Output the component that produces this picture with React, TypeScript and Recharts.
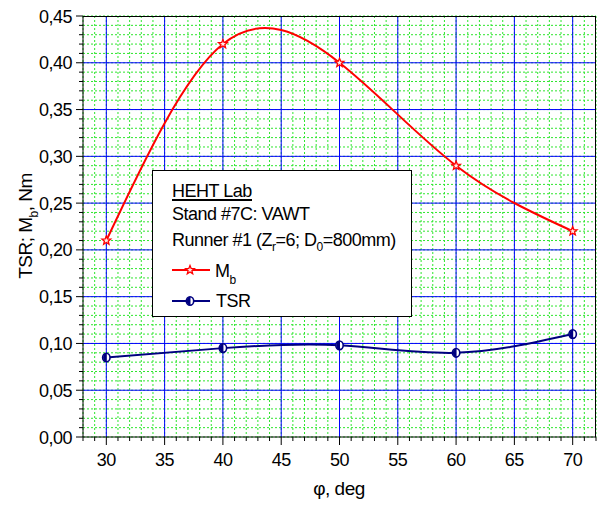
import React from 'react';
import {
  LineChart,
  Line,
  XAxis,
  YAxis,
  CartesianGrid,
} from 'recharts';

// measured points (phi in deg)
const PHI = [30, 40, 50, 60, 70];
const MB = [0.21, 0.42, 0.4, 0.29, 0.22];
const TSR = [0.085, 0.095, 0.098, 0.09, 0.11];

// axis ticks: labelled ones plus minor steps
const X_MAJOR = [30, 35, 40, 45, 50, 55, 60, 65, 70];
const Y_MAJOR = [0.05, 0.1, 0.15, 0.2, 0.25, 0.3, 0.35, 0.4];
const X_MINOR = Array.from({ length: 45 }, (_, i) => 28 + i);
const Y_MINOR = Array.from({ length: 46 }, (_, i) => i / 100);

const data = PHI.map((phi, i) => ({ phi, mb: MB[i], tsr: TSR[i] }));

const FONT = "'Liberation Sans', Arial, sans-serif";
const RED = '#ff0000';
const NAVY = '#000080';

const starPath = (cx: number, cy: number, R = 4.6, r = 2) => {
  let d = '';
  for (let k = 0; k < 10; k++) {
    const rad = k % 2 === 0 ? R : r;
    const a = -Math.PI / 2 + (k * Math.PI) / 5;
    d += (k === 0 ? 'M' : 'L') + (cx + rad * Math.cos(a)).toFixed(2) + ',' + (cy + rad * Math.sin(a)).toFixed(2);
  }
  return d + 'Z';
};

const Star = ({ cx, cy }: { cx: number; cy: number }) => (
  <path d={starPath(cx, cy)} fill="#ffe8e8" stroke={RED} strokeWidth={1.3} />
);

const HalfCircle = ({ cx, cy }: { cx: number; cy: number }) => (
  <g>
    <ellipse cx={cx} cy={cy} rx={3.7} ry={4.3} fill="#fff" stroke={NAVY} strokeWidth={1.6} />
    <path d={`M${cx + 0.5},${cy - 4.3} A3.7,4.3 0 0 0 ${cx + 0.5},${cy + 4.3} Z`} fill={NAVY} />
  </g>
);

const XTick = (props: any) => {
  const { x, y, payload } = props;
  const major = payload.value % 5 === 0;
  return (
    <g>
      <line x1={x} x2={x} y1={y} y2={y + (major ? 8 : 4)} stroke="#000" />
      {major && (
        <text x={x} y={y + 29} textAnchor="middle" fontFamily={FONT} fontSize={18} letterSpacing={-0.5} fill="#000">
          {payload.value}
        </text>
      )}
    </g>
  );
};

const YTick = (props: any) => {
  const { x, y, payload } = props;
  const major = Math.round(payload.value * 100) % 5 === 0;
  return (
    <g>
      <line x1={x - (major ? 7 : 4)} x2={x} y1={y} y2={y} stroke="#000" />
      {major && (
        <text x={x - 11} y={y + 6.5} textAnchor="end" fontFamily={FONT} fontSize={18} letterSpacing={-0.5} fill="#000">
          {payload.value.toFixed(2).replace('.', ',')}
        </text>
      )}
    </g>
  );
};

export default function App() {
  return (
    <div style={{ position: 'absolute', left: 0, top: 0, width: 597, height: 512, background: '#fff' }}>
      <LineChart width={597} height={512} data={data} margin={{ top: 16, right: 1, left: 0, bottom: 0 }}>
        {/* fine green dotted grid */}
        <CartesianGrid
          stroke="#2ee62e"
          strokeDasharray="2 2"
          verticalValues={X_MINOR}
          horizontalValues={Y_MINOR}
        />
        {/* blue major grid */}
        <CartesianGrid stroke="#0000ff" verticalValues={X_MAJOR} horizontalValues={Y_MAJOR} />
        <XAxis
          dataKey="phi"
          type="number"
          domain={[28, 72]}
          ticks={X_MINOR}
          interval={0}
          height={75}
          tickSize={0}
          tickMargin={0}
          tickLine={false}
          tick={<XTick />}
          axisLine={{ stroke: '#000' }}
        />
        <YAxis
          type="number"
          domain={[0, 0.45]}
          ticks={Y_MINOR}
          interval={0}
          width={83}
          tickSize={0}
          tickMargin={0}
          tickLine={false}
          tick={<YTick />}
          axisLine={{ stroke: '#000' }}
        />
        <Line
          type="natural"
          dataKey="mb"
          stroke={RED}
          strokeWidth={2}
          isAnimationActive={false}
          dot={(p: any) => <Star key={`s-${p.index}`} cx={p.cx} cy={p.cy} />}
        />
        <Line
          type="natural"
          dataKey="tsr"
          stroke={NAVY}
          strokeWidth={2}
          isAnimationActive={false}
          dot={(p: any) => <HalfCircle key={`c-${p.index}`} cx={p.cx} cy={p.cy} />}
        />
      </LineChart>

      {/* frame, titles and the text box */}
      <svg width={597} height={512} style={{ position: 'absolute', left: 0, top: 0, pointerEvents: 'none' }}>
        <line x1={83} x2={596} y1={16.5} y2={16.5} stroke="#000" />
        <line x1={595.5} x2={595.5} y1={16} y2={437} stroke="#000" />

        <text
          transform="translate(32,226) rotate(-90)"
          textAnchor="middle"
          fontFamily={FONT}
          fontSize={19}
          letterSpacing={-0.5}
          fill="#000"
        >
          TSR; M
          <tspan fontSize={12} dy={6}>b</tspan>
          <tspan dy={-6}>, Nm</tspan>
        </text>
        <text x={339} y={495} textAnchor="middle" fontFamily={FONT} fontSize={19} letterSpacing={-0.5} fill="#000">
          φ, deg
        </text>

        <rect x={152.5} y={170.5} width={259} height={146} fill="#fff" stroke="#000" />
        <g fontFamily={FONT} fontSize={18} letterSpacing={-0.5} fill="#000">
          <text x={172} y={197}>HEHT Lab</text>
          <line x1={172} x2={252} y1={200} y2={200} stroke="#000" strokeWidth={2} />
          <text x={172} y={220}>Stand #7C: VAWT</text>
          <text x={172} y={246}>
            Runner #1 (Z<tspan fontSize={12} dy={5}>r</tspan>
            <tspan dy={-5}>=6; D</tspan>
            <tspan fontSize={12} dy={5}>0</tspan>
            <tspan dy={-5}>=800mm)</tspan>
          </text>
          <line x1={172} x2={210} y1={270} y2={270} stroke={RED} strokeWidth={2} />
          <Star cx={190} cy={270} />
          <text x={215} y={277}>
            M<tspan fontSize={12} dy={7}>b</tspan>
          </text>
          <line x1={172} x2={210} y1={301} y2={301} stroke={NAVY} strokeWidth={2} />
          <HalfCircle cx={190} cy={301} />
          <text x={216} y={307}>TSR</text>
        </g>
      </svg>
    </div>
  );
}
